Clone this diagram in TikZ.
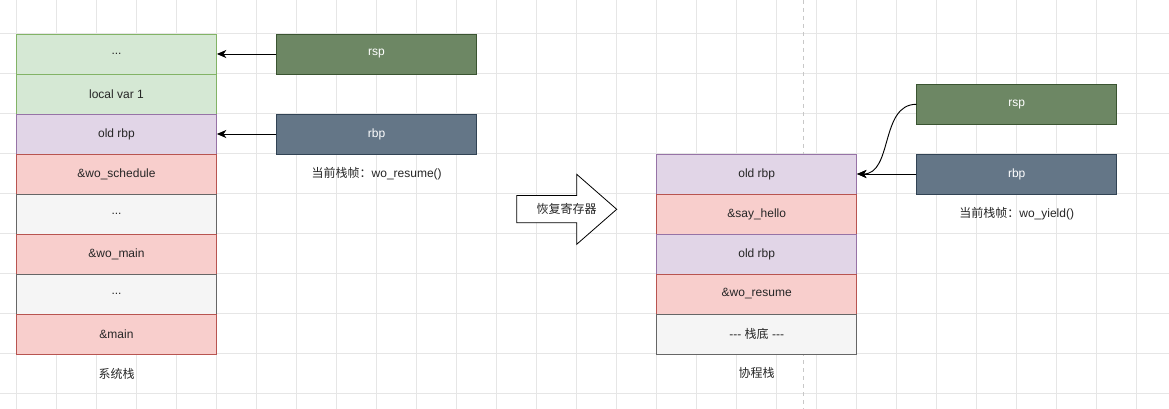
\documentclass[tikz,border=0pt]{standalone}
\usepackage{fontspec}
\setmainfont{Liberation Sans}
\newfontfamily\cjk{Noto Sans CJK SC}
\usetikzlibrary{arrows.meta}
\definecolor{gridc}{HTML}{E6E6E6}
\definecolor{gfill}{HTML}{D5E8D4}\definecolor{gdraw}{HTML}{82B366}
\definecolor{pfill}{HTML}{E1D5E7}\definecolor{pdraw}{HTML}{9673A6}
\definecolor{rfill}{HTML}{F8CECC}\definecolor{rdraw}{HTML}{B85450}
\definecolor{sfill}{HTML}{F5F5F5}\definecolor{sdraw}{HTML}{666666}
\definecolor{rspfill}{HTML}{6D8764}\definecolor{rspdraw}{HTML}{3A5431}
\definecolor{rbpfill}{HTML}{647687}\definecolor{rbpdraw}{HTML}{314354}
\definecolor{dashc}{HTML}{C8C8C8}
\tikzset{
  cell/.style={draw, minimum width=150pt, minimum height=30pt, inner sep=0pt, font=\fontsize{9pt}{11pt}\selectfont, text=black!85, line width=0.6pt},
  gcell/.style={cell, fill=gfill, draw=gdraw},
  pcell/.style={cell, fill=pfill, draw=pdraw},
  rcell/.style={cell, fill=rfill, draw=rdraw},
  scell/.style={cell, fill=sfill, draw=sdraw},
  rspbox/.style={cell, fill=rspfill, draw=rspdraw, text=white},
  rbpbox/.style={cell, fill=rbpfill, draw=rbpdraw, text=white},
  lbl/.style={inner sep=0pt, font=\fontsize{9pt}{11pt}\selectfont, text=black!85},
  conn/.style={-{Stealth[length=7pt,width=6pt,inset=2pt]}, line width=0.7pt},
}
\begin{document}
\begin{tikzpicture}[x=0.75pt,y=-0.75pt]
\useasboundingbox (0,0) rectangle (1169,409);
\fill[white] (0,0) rectangle (1169,409);
% grid
\foreach \gx in {16.7,56.7,...,1170} \draw[gridc, line width=0.6pt] (\gx,0) -- (\gx,409);
\foreach \gy in {33.3,73.3,...,410} \draw[gridc, line width=0.6pt] (0,\gy) -- (1169,\gy);
% dashed divider
\draw[dashc, line width=0.6pt, dash pattern=on 3pt off 3pt] (803.3,0) -- (803.3,409);
% left stack
\node[gcell] (l1) at (116.5,54) {...};
\node[gcell] (l2) at (116.5,94) {local var 1};
\node[pcell] (l3) at (116.5,134) {old rbp};
\node[rcell] (l4) at (116.5,174) {\&wo\_schedule};
\node[scell] (l5) at (116.5,214) {...};
\node[rcell] (l6) at (116.5,254) {\&wo\_main};
\node[scell] (l7) at (116.5,294) {...};
\node[rcell] (l8) at (116.5,334) {\&main};
\node[lbl] (lcap) at (116.5,374) {\cjk 系统栈};
% left registers
\node[rspbox] (rsp1) at (376.5,54) {rsp};
\node[rbpbox] (rbp1) at (376.5,134) {rbp};
\node[lbl] (fr1) at (376.7,174) {{\cjk 当前栈帧：}wo\_resume()};
\draw[conn] (rsp1.west) -- (l1.east);
\draw[conn] (rbp1.west) -- (l3.east);
% big arrow
\draw[black, line width=0.6pt, fill=white] (516.7,195.5) -- (576.7,195.5) -- (576.7,174.3) -- (616.7,209.3) -- (576.7,244.3) -- (576.7,222.7) -- (516.7,222.7) -- cycle;
\node[lbl] (bigt) at (566.7,209.3) {\cjk 恢复寄存器};
% right stack
\node[pcell] (r1) at (756.7,174) {old rbp};
\node[rcell] (r2) at (756.7,214) {\&say\_hello};
\node[pcell] (r3) at (756.7,254) {old rbp};
\node[rcell] (r4) at (756.7,294) {\&wo\_resume};
\node[scell] (r5) at (756.7,334) {-{}-{}- {\cjk 栈底} -{}-{}-};
\node[lbl] (rcap) at (756.7,373.3) {\cjk 协程栈};
% right registers
\node[rspbox] (rsp2) at (1016.7,104.3) {rsp};
\node[rbpbox] (rbp2) at (1016.7,174) {rbp};
\node[lbl] (fr2) at (1016.7,213.3) {{\cjk 当前栈帧：}wo\_yield()};
\draw[conn] (rsp2.west) .. controls (880,104.3) and (893,174) .. (r1.east);
\draw[conn] (rbp2.west) -- (r1.east);
\end{tikzpicture}
\end{document}
